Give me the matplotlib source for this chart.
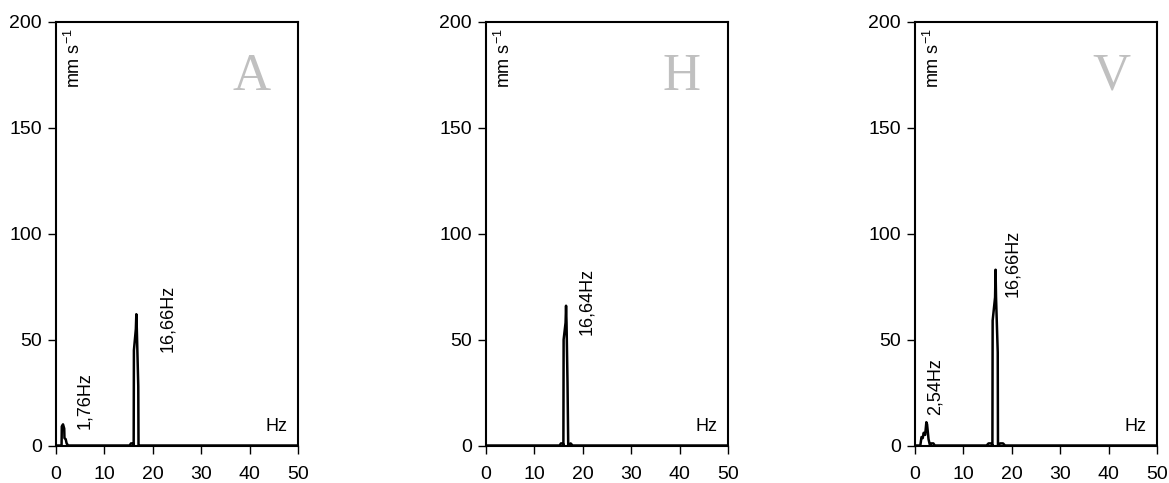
import matplotlib
matplotlib.use('Agg')
import matplotlib.pyplot as plt

plt.rcParams['font.family'] = ['Liberation Sans', 'DejaVu Sans']

# spectra (Hz, mm s-1)
freq_A = [0, 1.15, 1.2, 1.45, 1.7, 1.75, 2.0, 2.2, 2.5, 15.2, 15.5, 15.9, 16.05, 16.1, 16.5, 16.6, 16.7, 17.0, 17.05, 17.4, 50]
amp_A = [0, 0, 9, 10, 8, 3.5, 3, 1, 0, 0, 1, 1, 0, 45, 55, 62, 55, 28, 0, 0, 0]

freq_H = [0, 15.2, 15.5, 15.9, 16.0, 16.05, 16.45, 16.55, 16.65, 16.85, 17.0, 17.5, 17.9, 50]
amp_H = [0, 0, 1, 1, 0, 50, 58, 66, 58, 30, 0, 1, 0, 0]

freq_V = [0, 1.1, 1.35, 1.6, 1.8, 2.1, 2.35, 2.5, 2.8, 3.1, 3.4, 3.8, 4.1, 14.8, 15.2, 15.8, 16.0, 16.05,
          16.55, 16.65, 16.75, 17.1, 17.15, 17.6, 18.2, 18.6, 50]
amp_V = [0, 0, 4, 3.5, 6, 5, 11, 10, 3, 0, 1, 1, 0, 0, 1, 1, 0, 59,
         70, 83, 70, 44, 0, 1, 1, 0, 0]

letters = ['A', 'H', 'V']
peak_labels = [
    [('1,76Hz', 6.0, 8), ('16,66Hz', 23.0, 44)],
    [('16,64Hz', 20.8, 52)],
    [('2,54Hz', 4.1, 14.5), ('16,66Hz', 20.2, 70)],
]
series = [(freq_A, amp_A), (freq_H, amp_H), (freq_V, amp_V)]

fig = plt.figure(figsize=(11.69, 4.83), dpi=100)
lefts = [0.0479, 0.4157, 0.7827]

for i in range(3):
    ax = fig.add_axes([lefts[i], 0.0776, 0.207, 0.877])
    f, a = series[i]
    ax.plot(f, a, color='black', lw=1.8)
    ax.set_xlim(0, 50)
    ax.set_ylim(0, 200)
    ax.set_xticks([0, 10, 20, 30, 40, 50])
    ax.set_yticks([0, 50, 100, 150, 200])
    ax.tick_params(direction='out', length=6, width=1, labelsize=14, pad=9)
    ax.tick_params(axis='y', pad=4)
    for s in ax.spines.values():
        s.set_linewidth(1.5)
    for txt, x, y in peak_labels[i]:
        ax.text(x, y, txt, rotation=90, fontsize=13, ha='center', va='bottom')
    ax.text(0.074, 0.986, 'mm s$^{\\mathregular{-1}}$', rotation=90, fontsize=13,
            ha='center', va='top', transform=ax.transAxes)
    ax.text(0.958, 0.025, 'Hz', fontsize=13, ha='right', va='bottom', transform=ax.transAxes)
    ax.text(0.81, 0.87, letters[i], fontsize=38, color='#c0c0c0',
            family='Liberation Serif', ha='center', va='center', transform=ax.transAxes)

plt.savefig('out.png', dpi=100)
